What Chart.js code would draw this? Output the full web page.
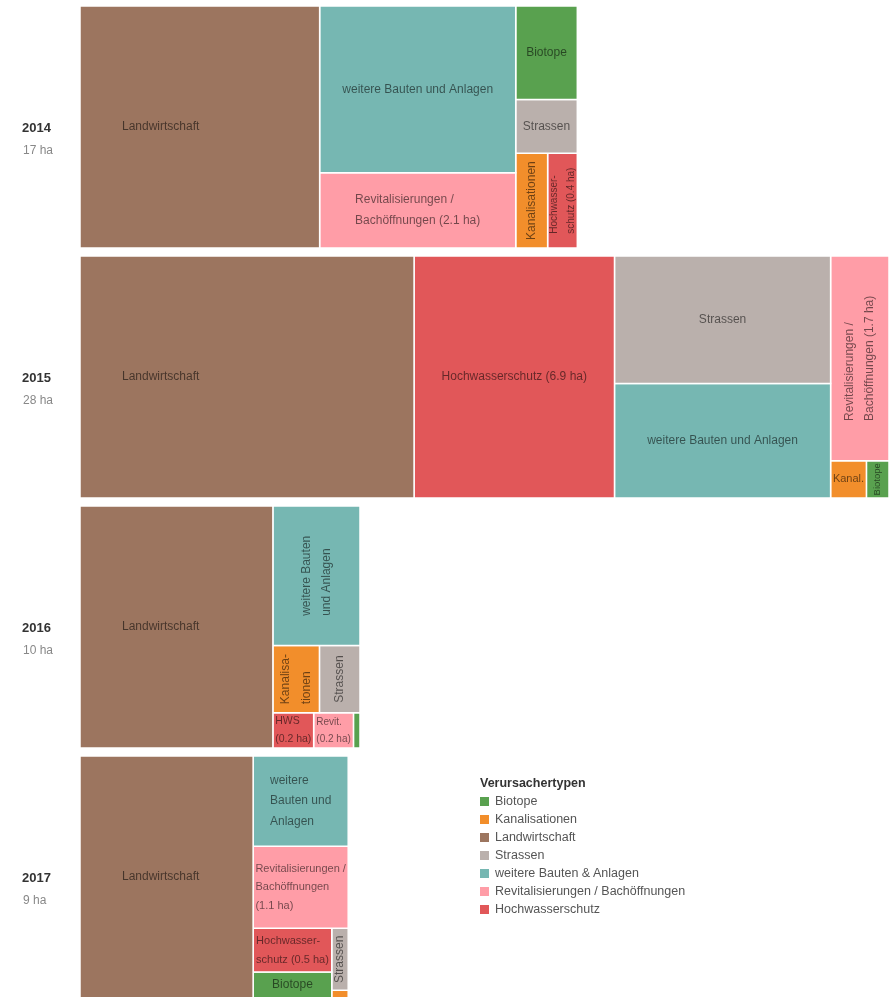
<!DOCTYPE html>
<html>
<head>
<meta charset="utf-8">
<script src="https://cdn.jsdelivr.net/npm/chart.js@4.4.1/dist/chart.umd.min.js"></script>
<style>
  html, body { margin: 0; padding: 0; background: #fff; overflow: hidden; }
  #wrap { position: relative; width: 890px; height: 998px; }
  #legend { position: absolute; left: 480px; top: 774px; font: 12.5px "Liberation Sans", Arial, sans-serif; color: #555; }
  #legend .title { font-weight: bold; color: #333; line-height: 18px; }
  #legend .item { line-height: 18px; white-space: nowrap; }
  #legend .sw { display: inline-block; width: 9px; height: 9px; margin-right: 6px; vertical-align: -1px; }
</style>
</head>
<body>
<div id="wrap">
  <canvas id="treemap"></canvas>
  <div id="legend"></div>
</div>
<script>
// Verursachertypen (legend order)
const categories = ['Biotope', 'Kanalisationen', 'Landwirtschaft', 'Strassen',
  'weitere Bauten & Anlagen', 'Revitalisierungen / Bachöffnungen', 'Hochwasserschutz'];
const years = ['2014', '2015', '2016', '2017'];

// area in ha per category, same order as categories
const ha2014 = [0.82, 0.43, 8.25, 0.47, 4.65, 2.1, 0.4];
const ha2015 = [0.12, 0.19, 11.5, 3.92, 3.52, 1.7, 6.9];
const ha2016 = [0.033, 0.444, 6.64, 0.387, 1.73, 0.2, 0.205];
const ha2017 = [0.29, 0.018, 5.96, 0.145, 1.22, 1.11, 0.49];

// text written in the cells ('' = no label)
const labels2014 = ['Biotope', 'Kanalisationen', 'Landwirtschaft', 'Strassen', 'weitere Bauten und Anlagen',
  'Revitalisierungen /\nBachöffnungen (2.1 ha)', 'Hochwasser-\nschutz (0.4 ha)'];
const labels2015 = ['Biotope', 'Kanal.', 'Landwirtschaft', 'Strassen', 'weitere Bauten und Anlagen',
  'Revitalisierungen /\nBachöffnungen (1.7 ha)', 'Hochwasserschutz (6.9 ha)'];
const labels2016 = ['', 'Kanalisa-\ntionen', 'Landwirtschaft', 'Strassen', 'weitere Bauten\nund Anlagen',
  'Revit.\n(0.2 ha)', 'HWS\n(0.2 ha)'];
const labels2017 = ['Biotope', '', 'Landwirtschaft', 'Strassen', 'weitere\nBauten und\nAnlagen',
  'Revitalisierungen /\nBachöffnungen\n(1.1 ha)', 'Hochwasser-\nschutz (0.5 ha)'];

const values = [ha2014, ha2015, ha2016, ha2017];
const cellLabels = [labels2014, labels2015, labels2016, labels2017];

// styles
const colors = ['#59a14f', '#f28e2b', '#9c755f', '#bab0ac', '#76b7b2', '#ff9da7', '#e15759'];
const FONT = '"Liberation Sans", Arial, sans-serif';
const ROW_H = 8.33;   // row height, in the same units as the x axis (ha)
const GAP = 0.275;    // space between rows
const FIRST_INDENT = 42;

// squarified layout (same as d3.treemapSquarify, golden ratio)
function squarify(nodes, x0, y0, x1, y1) {
  const ratio = (1 + Math.sqrt(5)) / 2;
  const n = nodes.length;
  let value = nodes.reduce((s, d) => s + d.value, 0);
  let i0 = 0, i1 = 0;
  while (i0 < n) {
    const dx = x1 - x0, dy = y1 - y0;
    let sumValue;
    do sumValue = nodes[i1++].value; while (!sumValue && i1 < n);
    let minValue = sumValue, maxValue = sumValue;
    const alpha = Math.max(dy / dx, dx / dy) / (value * ratio);
    let beta = sumValue * sumValue * alpha;
    let minRatio = Math.max(maxValue / beta, beta / minValue);
    for (; i1 < n; ++i1) {
      const v = nodes[i1].value;
      sumValue += v;
      if (v < minValue) minValue = v;
      if (v > maxValue) maxValue = v;
      beta = sumValue * sumValue * alpha;
      const newRatio = Math.max(maxValue / beta, beta / minValue);
      if (newRatio > minRatio) { sumValue -= v; break; }
      minRatio = newRatio;
    }
    const row = nodes.slice(i0, i1);
    if (dx < dy) {
      const yEnd = y0 + dy * sumValue / value;
      let x = x0;
      row.forEach(d => {
        const w = dx * d.value / sumValue;
        Object.assign(d, { x0: x, x1: x + w, y0: y0, y1: yEnd });
        x += w;
      });
      y0 = yEnd;
    } else {
      const xEnd = x0 + dx * sumValue / value;
      let y = y0;
      row.forEach(d => {
        const h = dy * d.value / sumValue;
        Object.assign(d, { x0: x0, x1: xEnd, y0: y, y1: y + h });
        y += h;
      });
      x0 = xEnd;
    }
    value -= sumValue;
    i0 = i1;
  }
  return nodes;
}

const totals = values.map(v => v.reduce((a, b) => a + b, 0));
const xMax = Math.max(...totals);
const yMax = years.length * ROW_H + (years.length - 1) * GAP;

const datasets = [];
years.forEach((year, r) => {
  const top = r * (ROW_H + GAP);
  const nodes = values[r].map((v, c) => ({ value: v, cat: c, label: cellLabels[r][c] }))
    .sort((a, b) => b.value - a.value);
  squarify(nodes, 0, top, totals[r], top + ROW_H);
  nodes.forEach((d, i) => {
    datasets.push({
      label: categories[d.cat],
      data: [
        { x: d.x0, y: d.y0 }, { x: d.x1, y: d.y0 },
        { x: d.x1, y: d.y1 }, { x: d.x0, y: d.y1 }, { x: d.x0, y: d.y0 }
      ],
      backgroundColor: colors[d.cat],
      borderColor: '#fff',
      borderWidth: 1.5,
      fill: 'shape',
      pointRadius: 0,
      tension: 0,
      cellText: d.label,
      firstCell: i === 0
    });
  });
});

function lineWidths(ctx, lines) {
  return Math.max(...lines.map(l => ctx.measureText(l).width));
}

// choose font size and direction for a label inside a w x h cell
function fitLabel(ctx, lines, w, h) {
  const n = lines.length;
  const block = fs => (n - 1) * fs * 1.7 + fs;
  ctx.font = '12px ' + FONT;
  let tw = lineWidths(ctx, lines);
  if (tw <= w - 16 && block(12) <= h - 4) return { fs: 12, rot: false };
  if (h > w && tw <= h - 16 && block(12) <= w - 2) return { fs: 12, rot: true };
  for (let fs = 12; fs >= 7; fs -= 0.5) {
    ctx.font = fs + 'px ' + FONT;
    tw = lineWidths(ctx, lines);
    if (tw <= w - 4 && block(fs) <= h - 2) return { fs: fs, rot: false };
    if (h > w * 1.2 && tw <= h - 4 && block(fs) <= w - 2) return { fs: fs, rot: true };
  }
  return null;
}

const treemapLabels = {
  id: 'treemapLabels',
  afterDatasetsDraw(chart) {
    const ctx = chart.ctx;
    const xs = chart.scales.x, ys = chart.scales.y;
    ctx.save();
    ctx.fillStyle = 'rgba(0,0,0,0.55)';
    ctx.textBaseline = 'middle';
    ctx.textAlign = 'left';
    chart.data.datasets.forEach(ds => {
      if (!ds.cellText) return;
      const p = ds.data;
      const left = xs.getPixelForValue(p[0].x), right = xs.getPixelForValue(p[1].x);
      const top = ys.getPixelForValue(p[0].y), bottom = ys.getPixelForValue(p[2].y);
      const w = right - left, h = bottom - top;
      const lines = ds.cellText.split('\n');
      const fit = fitLabel(ctx, lines, w, h);
      if (!fit) return;
      ctx.font = fit.fs + 'px ' + FONT;
      const tw = lineWidths(ctx, lines);
      const lh = fit.fs * 1.7;
      let cx = (left + right) / 2;
      if (ds.firstCell && !fit.rot) cx = left + FIRST_INDENT + tw / 2;
      const cy = (top + bottom) / 2;
      ctx.save();
      ctx.translate(cx, cy);
      if (fit.rot) ctx.rotate(-Math.PI / 2);
      lines.forEach((l, i) => {
        ctx.fillText(l, -tw / 2, -(lines.length - 1) * lh / 2 + i * lh);
      });
      ctx.restore();
    });

    // year + total on the left of each row
    years.forEach((year, r) => {
      const mid = ys.getPixelForValue(r * (ROW_H + GAP) + ROW_H / 2);
      ctx.font = 'bold 13px ' + FONT;
      ctx.fillStyle = '#333';
      ctx.fillText(year, 22, mid + 1);
      ctx.font = '12px ' + FONT;
      ctx.fillStyle = '#888';
      ctx.fillText(Math.round(totals[r]) + ' ha', 23, mid + 24);
    });
    ctx.restore();
  }
};

const chart = new Chart(document.getElementById('treemap'), {
  type: 'line',
  data: { datasets: datasets },
  options: {
    responsive: true,
    maintainAspectRatio: false,
    animation: false,
    events: [],
    layout: { padding: { left: 80, right: 1, top: 6, bottom: 0 } },
    scales: {
      x: { type: 'linear', min: 0, max: xMax, display: false },
      y: { type: 'linear', min: 0, max: yMax, reverse: true, display: false }
    },
    plugins: {
      legend: { display: false },
      tooltip: { enabled: false }
    }
  },
  plugins: [treemapLabels]
});

// legend
const legendEl = document.getElementById('legend');
legendEl.innerHTML = '<div class="title">Verursachertypen</div>' +
  categories.map((c, i) => '<div class="item"><span class="sw" style="background:' + colors[i] + '"></span>' + c + '</div>').join('');
</script>
</body>
</html>
